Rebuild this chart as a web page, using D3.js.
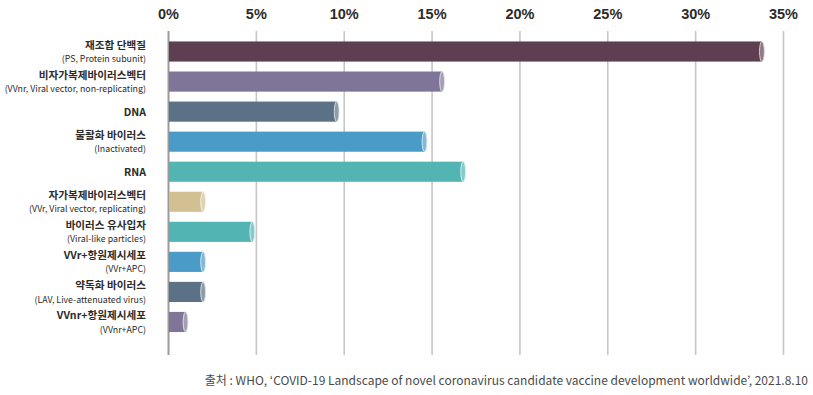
<!DOCTYPE html>
<html>
<head>
<meta charset="utf-8">
<script src="https://cdn.jsdelivr.net/npm/d3@7"></script>
<style>
  body { margin: 0; background: #fff; }
  svg { display: block; font-family: "Noto Sans CJK KR", "Noto Sans", sans-serif; }
</style>
</head>
<body>
<svg width="813" height="395"></svg>
<script>
// vaccine platform types
const labels = ['재조합 단백질', '비자가복제바이러스벡터', 'DNA', '불활화 바이러스', 'RNA',
  '자가복제바이러스벡터', '바이러스 유사입자', 'VVr+항원제시세포', '약독화 바이러스', 'VVnr+항원제시세포']
const subLabels = ['(PS, Protein subunit)', '(VVnr, Viral vector, non-replicating)', '', '(Inactivated)', '',
  '(VVr, Viral vector, replicating)', '(Viral-like particles)', '(VVr+APC)', '(LAV, Live-attenuated virus)', '(VVnr+APC)']
const values = [33.8, 15.6, 9.6, 14.6, 16.8, 2.0, 4.8, 2.0, 2.0, 1.0]
const ticks = [0, 5, 10, 15, 20, 25, 30, 35]
const palette = ['#5e3f51', '#7f7598', '#5b7186', '#4b9bc8', '#52b5b4',
  '#d3c092', '#52b5b4', '#4b9bc8', '#5b7186', '#7f7598']

const svg = d3.select('svg')
const gridTop = 31, gridBottom = 355

const x = d3.scaleLinear().domain([0, 35]).range([168, 783])
const y = d3.scaleBand()
  .domain(labels)
  .range([36.5, 337])
  .paddingInner(0.33)
  .paddingOuter(0.165)

// axis + gridlines
const axis = svg.append('g')
  .attr('transform', `translate(0, ${gridTop})`)
  .call(d3.axisTop(x).tickValues(ticks).tickFormat(d => d + '%')
    .tickSize(-(gridBottom - gridTop)).tickPadding(12))
axis.select('.domain').remove()
axis.selectAll('line')
  .attr('stroke', d => d === 0 ? '#9a9a9a' : '#c6c6c6')
  .attr('stroke-width', d => d === 0 ? 2 : 1.6)
axis.selectAll('text')
  .attr('fill', '#2b2b2b')
  .attr('font-size', 14.5)
  .attr('font-weight', 'bold')

// bars
const bars = svg.append('g')
bars.selectAll('rect')
  .data(values)
  .enter()
  .append('rect')
  .attr('x', x(0) + 1)
  .attr('y', (d, i) => y(labels[i]))
  .attr('width', d => x(d) - x(0) - 1)
  .attr('height', y.bandwidth())
  .attr('fill', (d, i) => palette[i])

// cylinder end caps
bars.selectAll('ellipse')
  .data(values)
  .enter()
  .append('ellipse')
  .attr('cx', d => x(d))
  .attr('cy', (d, i) => y(labels[i]) + y.bandwidth() / 2)
  .attr('rx', 2.4)
  .attr('ry', y.bandwidth() / 2)
  .attr('fill', (d, i) => d3.interpolateRgb(palette[i], '#fff')(0.3))
  .attr('stroke', (d, i) => d3.interpolateRgb(palette[i], '#fff')(0.8))
  .attr('stroke-width', 0.9)

// category labels
const lab = svg.append('g')
labels.forEach((name, i) => {
  const cy = y(name) + y.bandwidth() / 2
  const two = subLabels[i] !== ''
  lab.append('text')
    .attr('x', 146)
    .attr('y', two ? cy - 6.5 : cy + 1)
    .attr('dy', '0.35em')
    .attr('text-anchor', 'end')
    .attr('font-size', 10.6)
    .attr('font-weight', 'bold')
    .attr('fill', '#2b2b2b')
    .text(name)
  if (two) {
    lab.append('text')
      .attr('x', 146)
      .attr('y', cy + 7.5)
      .attr('dy', '0.35em')
      .attr('text-anchor', 'end')
      .attr('font-size', 8.8)
      .attr('fill', '#2b2b2b')
      .text(subLabels[i])
  }
})

// source
svg.append('text')
  .attr('x', 808)
  .attr('y', 385)
  .attr('text-anchor', 'end')
  .attr('font-size', 12)
  .attr('fill', '#4a4a4a')
  .text('출처 : WHO, ‘COVID-19 Landscape of novel coronavirus candidate vaccine development worldwide’, 2021.8.10')
</script>
</body>
</html>
